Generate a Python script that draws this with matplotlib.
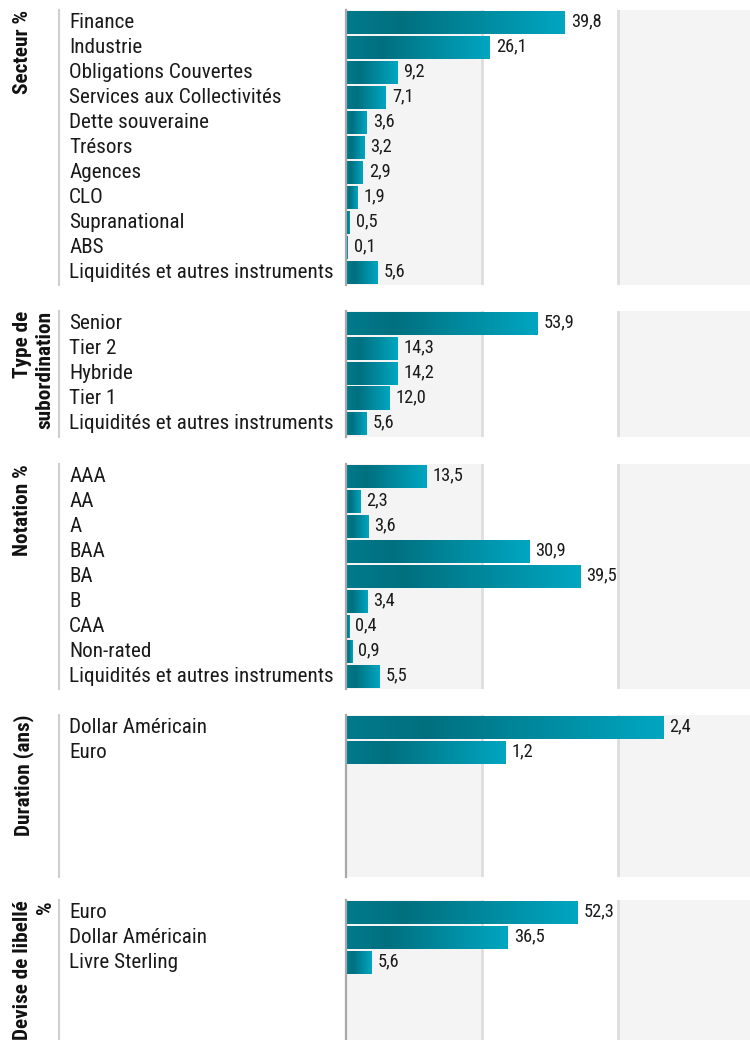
import matplotlib
matplotlib.use("Agg")
import matplotlib.pyplot as plt
import numpy as np
from matplotlib.colors import LinearSegmentedColormap
from matplotlib.patches import Rectangle
from matplotlib.lines import Line2D
import matplotlib.transforms as mtransforms

FONTS = ['Roboto Condensed', 'Liberation Sans Narrow', 'DejaVu Sans Condensed', 'Roboto', 'DejaVu Sans']
plt.rcParams['font.family'] = FONTS

# ---------------- data ----------------
secteur_labels = ["Finance", "Industrie", "Obligations Couvertes", "Services aux Collectivités",
                  "Dette souveraine", "Trésors", "Agences", "CLO", "Supranational", "ABS",
                  "Liquidités et autres instruments"]
secteur_values = [39.8, 26.1, 9.2, 7.1, 3.6, 3.2, 2.9, 1.9, 0.5, 0.1, 5.6]

subord_labels = ["Senior", "Tier 2", "Hybride", "Tier 1", "Liquidités et autres instruments"]
subord_values = [53.9, 14.3, 14.2, 12.0, 5.6]

notation_labels = ["AAA", "AA", "A", "BAA", "BA", "B", "CAA", "Non-rated",
                   "Liquidités et autres instruments"]
notation_values = [13.5, 2.3, 3.6, 30.9, 39.5, 3.4, 0.4, 0.9, 5.5]

duration_labels = ["Dollar Américain", "Euro"]
duration_values = [2.4, 1.2]

devise_labels = ["Euro", "Dollar Américain", "Livre Sterling"]
devise_values = [52.3, 36.5, 5.6]

titles = ["Secteur %", "Type de\nsubordination", "Notation %", "Duration (ans)", "Devise de libellé\n%"]

# ---------------- layout ----------------
W, H = 750, 1040
fig = plt.figure(figsize=(W / 100, H / 100), dpi=100)

panels = [
    (secteur_labels, secteur_values, 73.6, 10, 285),
    (subord_labels, subord_values, 114.0, 311, 437),
    (notation_labels, notation_values, 68.3, 464, 689),
    (duration_labels, duration_values, 3.06, 715, 877),
    (devise_labels, devise_values, 91.5, 900, 1040),
]

cmap = LinearSegmentedColormap.from_list(
    "bar", [(0.0, "#007a8b"), (0.25, "#00707f"), (1.0, "#00a6c1")])
grad = np.linspace(0, 1, 256).reshape(1, -1)

AX_L, AX_R = 347, 750
SLOT = 25.0

for (labels, values, xmax, top, bottom), title in zip(panels, titles):
    ax = fig.add_axes([AX_L / W, 1 - bottom / H, (AX_R - AX_L) / W, (bottom - top) / H])
    nslots = (bottom - top) / SLOT
    ax.set_facecolor("white")
    # column backgrounds and grid (fixed pixel columns)
    c1 = (482 - AX_L) / (AX_R - AX_L)
    c2 = (618 - AX_L) / (AX_R - AX_L)
    ax.add_patch(Rectangle((0, 0), c1, 1, transform=ax.transAxes,
                           facecolor="#f4f4f4", edgecolor="none", zorder=0))
    ax.add_patch(Rectangle((c2, 0), 1 - c2, 1, transform=ax.transAxes,
                           facecolor="#f4f4f4", edgecolor="none", zorder=0))
    for gx in (c1, c2):
        ax.add_line(Line2D([gx, gx], [0, 1], transform=ax.transAxes,
                           color="#dedede", lw=2, zorder=1))

    bh = 0.92
    for i, v in enumerate(values):
        ax.imshow(grad, cmap=cmap, aspect="auto", interpolation="bicubic",
                  extent=[0, v, i + bh / 2, i - bh / 2], zorder=3)
        ax.annotate(f"{v:.1f}".replace(".", ","), xy=(v, i), xytext=(4.3, 0.5),
                    textcoords="offset points", ha="left", va="center",
                    fontsize=13.2, color="#1a1a1a", zorder=6)
    ax.set_xlim(0, xmax)
    ax.set_ylim(nslots - 0.5, -0.5)
    ax.set_axis_off()

    # left axis line just left of the bars
    fig.add_artist(Line2D([345.8 / W, 345.8 / W], [1 - top / H, 1 - bottom / H],
                          transform=fig.transFigure, color="#a8a8a8", lw=1.6))

    # category labels
    trans = mtransforms.blended_transform_factory(fig.transFigure, ax.transData)
    for i, lab in enumerate(labels):
        ax.text(69 / W, i, lab, transform=trans, ha="left", va="center",
                fontsize=15.2, color="#1a1a1a", clip_on=False)

    # thin separator
    fig.add_artist(Line2D([59 / W, 59 / W], [1 - top / H, 1 - bottom / H],
                          transform=fig.transFigure, color="#cfcfcf", lw=1.5))

    # panel title
    fig.text(13.5 / W, 1 - top / H, title, rotation=90, ha="left", va="top",
             multialignment="right", fontsize=15.3, fontweight="bold",
             color="#111111", linespacing=1.22)

fig.savefig("out.png", dpi=100)
